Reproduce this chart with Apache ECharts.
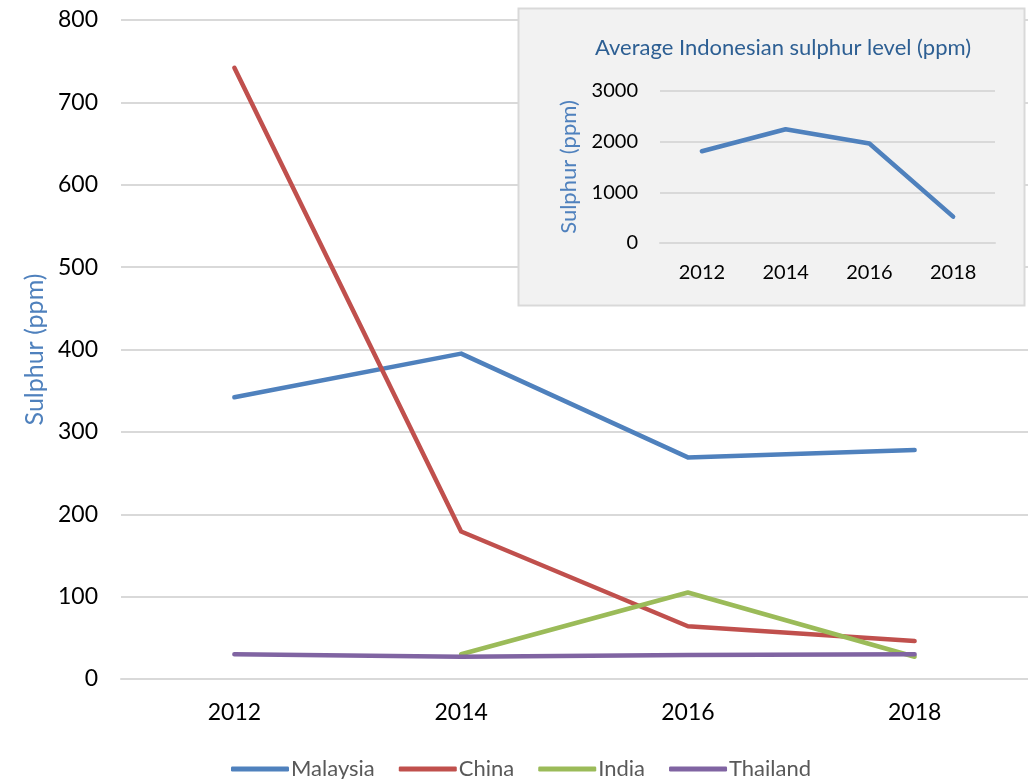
<!DOCTYPE html>
<html><head><meta charset="utf-8">
<script src="https://cdn.jsdelivr.net/npm/echarts@6/dist/echarts.min.js"></script>
<style>html,body{margin:0;padding:0;background:#fff}#c{width:1028px;height:779px}</style>
</head><body><div id="c"></div>
<script>
const years = ['2012','2014','2016','2018'];
const malaysia = [342, 395, 269, 278];
const china = [742, 179, 64, 46];
const india = [null, 30, 105, 27];
const thailand = [30, 27, 29, 30];
const indonesia = [1810, 2245, 1965, 520];
const mainTicks = {min:0, max:800, interval:100};
const insetTicks = {min:0, max:3000, interval:1000};

const FONT = 'Lato';
const chart = echarts.init(document.getElementById('c'));
const lineS = (name, data, color) => ({
  name, type:'line', data, xAxisIndex:0, yAxisIndex:0, symbol:'none', z:2,
  lineStyle:{color, width:4.5, cap:'round', join:'round'}, itemStyle:{color}, connectNulls:false
});
chart.setOption({
  animation:false,
  textStyle:{fontFamily:FONT},
  title:{text:'Average Indonesian sulphur level (ppm)', left:590, top:32, z:10,
    textStyle:{fontFamily:FONT, fontSize:22, fontWeight:'normal', color:'#2d5f93'}},
  graphic:[{type:'rect', z:1, shape:{x:518.5, y:8.5, width:506, height:297},
    style:{fill:'#f2f2f2', stroke:'#d9d9d9', lineWidth:2}}],
  legend:{top:753, left:226, icon:'roundRect', itemWidth:58, itemHeight:5, itemGap:24,
    textStyle:{fontFamily:FONT, fontSize:22, color:'#595959', padding:[0,0,0,-3]},
    data:['Malaysia','China','India','Thailand']},
  grid:[
    {left:121, right:-1, top:20, bottom:100},
    {left:660, width:335, top:91, height:152}
  ],
  xAxis:[
    {type:'category', data:years, gridIndex:0, boundaryGap:true, z:0,
      axisLine:{lineStyle:{color:'#d9d9d9', width:2}}, axisTick:{show:false},
      axisLabel:{fontFamily:FONT, fontSize:23, color:'#000', margin:22}},
    {type:'category', data:years, gridIndex:1, boundaryGap:true, z:5,
      axisLine:{lineStyle:{color:'#d9d9d9', width:2}}, axisTick:{show:false},
      axisLabel:{fontFamily:FONT, fontSize:20, color:'#000', margin:20}}
  ],
  yAxis:[
    {type:'value', gridIndex:0, ...mainTicks, z:0,
      name:'Sulphur (ppm)', nameLocation:'middle', nameGap:74,
      nameTextStyle:{fontFamily:FONT, fontSize:25, color:'#4f81bd'},
      axisLine:{show:false}, axisTick:{show:false},
      splitLine:{lineStyle:{color:'#d9d9d9', width:2}},
      axisLabel:{fontFamily:FONT, fontSize:23, color:'#000', margin:23}},
    {type:'value', gridIndex:1, ...insetTicks, z:5,
      name:'Sulphur (ppm)', nameLocation:'middle', nameGap:80,
      nameTextStyle:{fontFamily:FONT, fontSize:22, color:'#4f81bd'},
      axisLine:{show:false}, axisTick:{show:false},
      splitLine:{lineStyle:{color:'#d9d9d9', width:2}},
      axisLabel:{fontFamily:FONT, fontSize:20, color:'#000', margin:22, formatter: v => String(v)}}
  ],
  series:[
    lineS('Malaysia', malaysia, '#4f81bd'),
    lineS('China', china, '#c0504d'),
    lineS('India', india, '#9bbb59'),
    lineS('Thailand', thailand, '#8064a2'),
    {name:'Indonesia', type:'line', data:indonesia, xAxisIndex:1, yAxisIndex:1, symbol:'none', z:6,
      lineStyle:{color:'#4f81bd', width:4.5, cap:'round', join:'round'}, itemStyle:{color:'#4f81bd'}}
  ]
});
</script></body></html>
